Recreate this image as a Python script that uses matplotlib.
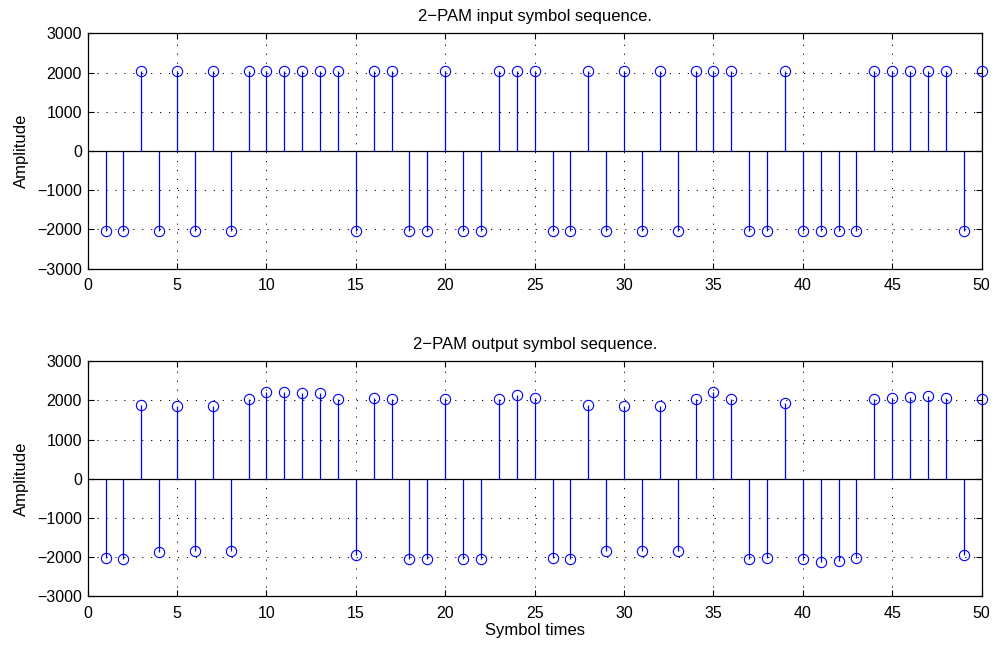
import numpy as np
import matplotlib
matplotlib.use("Agg")
import matplotlib.pyplot as plt

plt.rcParams['font.family'] = ['Liberation Sans', 'DejaVu Sans']

# Symbol index 1..50
symbol_times = list(range(1, 51))

# Transmitted 2-PAM symbols (sign of each symbol)
input_signs = [-1, -1, 1, -1, 1, -1, 1, -1, 1, 1,
               1, 1, 1, 1, -1, 1, 1, -1, -1, 1,
               -1, -1, 1, 1, 1, -1, -1, 1, -1, 1,
               -1, 1, -1, 1, 1, 1, -1, -1, 1, -1,
               -1, -1, -1, 1, 1, 1, 1, 1, -1, 1]
symbol_amplitude = 2048
input_symbols = [s * symbol_amplitude for s in input_signs]

# Received symbols after the channel
output_symbols = [-2034, -2059, 1881, -1864, 1856, -1856, 1847, -1856, 2042, 2220,
                  2203, 2195, 2178, 2034, -1949, 2051, 2034, -2051, -2042, 2042,
                  -2042, -2051, 2034, 2144, 2059, -2034, -2059, 1881, -1856, 1864,
                  -1847, 1856, -1847, 2042, 2220, 2034, -2059, -2034, 1924, -2051,
                  -2119, -2093, -2034, 2042, 2059, 2076, 2102, 2051, -1941, 2034]

titles = ["2\u2212PAM input symbol sequence.", "2\u2212PAM output symbol sequence."]
x_ticks = [0, 5, 10, 15, 20, 25, 30, 35, 40, 45, 50]
y_ticks = [-3000, -2000, -1000, 0, 1000, 2000, 3000]

fig = plt.figure(figsize=(9.96, 6.46), dpi=100)
ax_top = fig.add_axes([0.0880, 0.5840, 0.8976, 0.3645])
ax_bot = fig.add_axes([0.0880, 0.0774, 0.8976, 0.3633])

blue = (0.0, 0.0, 1.0)

for ax, data, title in [(ax_top, input_symbols, titles[0]),
                        (ax_bot, output_symbols, titles[1])]:
    ax.set_xlim(0, 50)
    ax.set_ylim(-3000, 3000)
    ax.set_xticks(x_ticks)
    ax.set_yticks(y_ticks)
    ax.grid(True, color='black', linestyle=(0, (1.2, 8)), linewidth=0.7)
    ax.axhline(0, color='black', linewidth=0.9, zorder=2)
    ax.vlines(symbol_times, 0, data, color=blue, linewidth=0.9, zorder=3)
    ax.plot(symbol_times, data, linestyle='none', marker='o', markersize=7.4,
            markerfacecolor='none', markeredgecolor=blue, markeredgewidth=0.8,
            zorder=4, clip_on=False)
    ax.tick_params(direction='in', top=True, right=True, length=4,
                   width=0.8, labelsize=11.5)
    ax.tick_params(axis='x', pad=7)
    ax.tick_params(axis='y', pad=4)
    for sp in ax.spines.values():
        sp.set_linewidth(0.9)
    ax.set_title(title, fontsize=12, pad=8.8)
    ax.set_ylabel("Amplitude", fontsize=12, labelpad=6)

ax_bot.set_xlabel("Symbol times", fontsize=12, labelpad=2)

fig.savefig("out.png", dpi=100)
